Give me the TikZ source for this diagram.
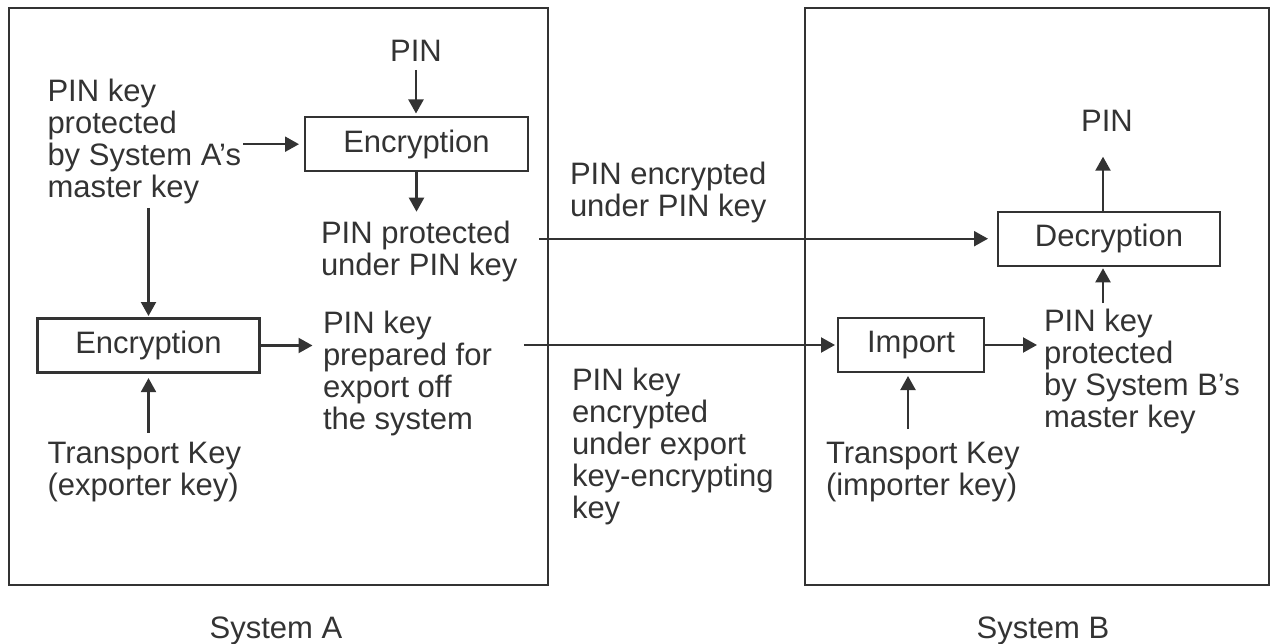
\documentclass[tikz,border=0pt]{standalone}
\usepackage{fontspec}
\setmainfont{Liberation Sans}
\usetikzlibrary{arrows.meta,calc}
\definecolor{ink}{HTML}{333333}
\newcommand\fstrut{\rule{0pt}{23pt}}
\begin{document}
\begin{tikzpicture}[x=1pt,y=-1pt,
  every node/.style={inner sep=0pt, outer sep=0pt, text=ink, font=\fontsize{31}{32}\selectfont},
  txt/.style={align=left, anchor=north west},
  box/.style={draw=ink, line width=2.2pt, minimum height=54pt},
  frame/.style={draw=ink, line width=2.4pt},
  arr/.style={draw=ink, line width=2.2pt, -{Triangle[length=14pt,width=15pt]}}]
\useasboundingbox (0,0) rectangle (1271,644);
% system frames
\node[frame, minimum width=539pt, minimum height=577pt] (sysA) at (278.5,296.5) {};
\node[frame, minimum width=464pt, minimum height=577pt] (sysB) at (1037,296.5) {};
% System A
\node[anchor=base] (pinA) at (416,61.7) {PIN};
\node[box, minimum width=223pt] (encA) at (416.5,144.2) {Encryption};
\node[txt] (keyA) at (47.5,78.7) {\fstrut PIN key\\protected\\by System A’s\\master key};
\node[txt] (prot) at (321,220.3) {\fstrut PIN protected\\under PIN key};
\node[box, minimum width=222pt] (encB) at (148.5,345.5) {Encryption};
\node[txt] (prep) at (323,310.3) {\fstrut PIN key\\prepared for\\export off\\the system};
\node[txt] (trA) at (47.5,440.3) {\fstrut Transport Key\\(exporter key)};
% between
\node[txt] (encPin) at (570,162) {\fstrut PIN encrypted\\under PIN key};
\node[txt] (encKey) at (572,367) {\fstrut PIN key\\encrypted\\under export\\key-encrypting\\key};
% System B
\node[box, minimum width=222pt] (dec) at (1109,238.7) {Decryption};
\node[anchor=base] (pinB) at (1107,131.7) {PIN};
\node[box, minimum width=146pt] (imp) at (911,345) {Import};
\node[txt] (keyB) at (1044,308.7) {\fstrut PIN key\\protected\\by System B’s\\master key};
\node[txt] (trB) at (826,440) {\fstrut Transport Key\\(importer key)};
% labels
\node[anchor=base] (labA) at (276,638) {System A};
\node[anchor=base] (labB) at (1043,638) {System B};
% connectors
\draw[arr, shorten <=8.3pt, shorten >=3.7pt] (pinA.south) -- (pinA.south |- encA.north);
\draw[arr, shorten <=2pt, shorten >=6pt] (encA.west -| keyA.east) -- (encA.west);
\draw[arr, shorten >=8.6pt] (encA.south) -- (encA.south |- prot.north);
\draw[arr, shorten <=22pt, shorten >=10pt] (dec.west -| prot.east) -- (dec.west);
\draw[arr, shorten <=3.8pt, shorten >=2.5pt] (encB.north |- keyA.south) -- (encB.north);
\draw[arr, shorten <=7.6pt, shorten >=5.6pt] (encB.south |- trA.north) -- (encB.south);
\draw[arr, shorten >=10.5pt] (encB.east) -- (encB.east -| prep.west);
\draw[arr, shorten <=32pt, shorten >=3pt] (imp.west -| prep.east) -- (imp.west);
\draw[arr, shorten >=7pt] (imp.east) -- (imp.east -| keyB.west);
\draw[arr, shorten <=11pt, shorten >=4pt] ([xshift=-3pt]imp.south |- trB.north) -- ([xshift=-3pt]imp.south);
\draw[arr, shorten <=5.7pt, shorten >=2.6pt] ([xshift=-6pt]dec.south |- keyB.north) -- ([xshift=-6pt]dec.south);
\draw[arr, shorten >=25pt] ([xshift=-6pt]dec.north) -- ([xshift=-6pt]dec.north |- pinB.south);
\end{tikzpicture}
\end{document}
